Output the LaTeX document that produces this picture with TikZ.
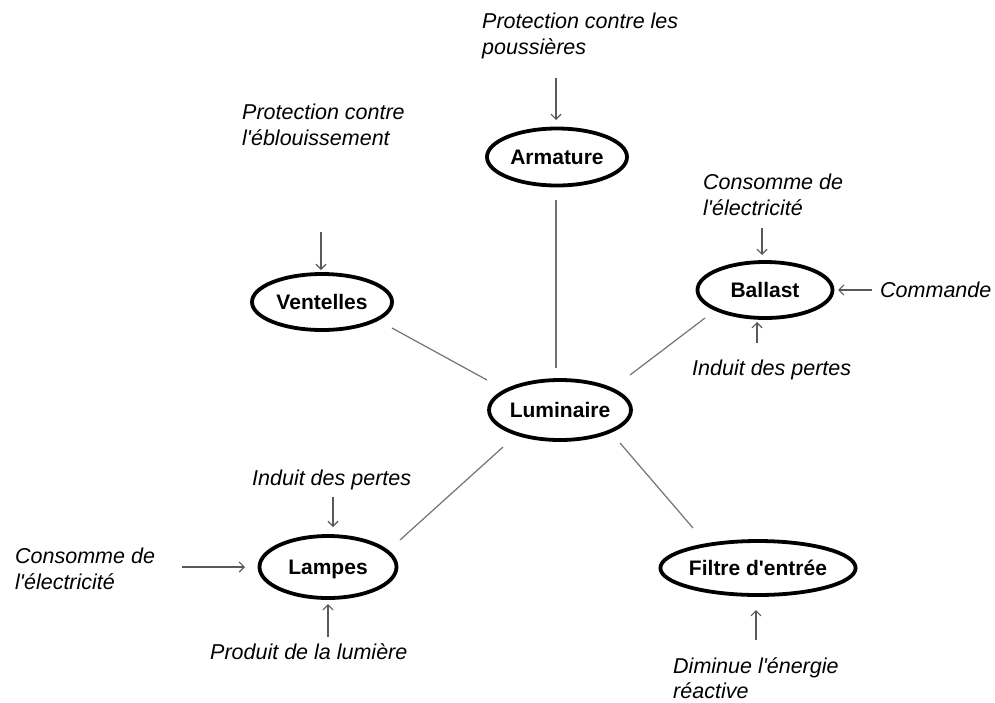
\documentclass[tikz,border=0pt]{standalone}
\usepackage{fontspec}
\setmainfont{Liberation Sans}[Ligatures=TeXOff]
\usetikzlibrary{shapes.geometric,arrows.meta,calc}
\begin{document}
\begin{tikzpicture}[x=1pt,y=-1pt,
  ell/.style={ellipse,draw=black,line width=3.8pt,inner sep=0pt,text height=15pt,text depth=0pt,font=\fontsize{21}{25}\selectfont\bfseries},
  lbl/.style={anchor=base west,inner sep=0pt,align=left,font=\fontsize{21.5}{26}\selectfont\itshape},
  link/.style={draw=black!55,line width=1.2pt},
  arr/.style={draw=black!65,line width=1.2pt,-{Straight Barb[length=5pt,width=10pt,line width=1.2pt]}}]
\fill[white] (0,0) rectangle (995,702);
\useasboundingbox (0,0) rectangle (995,702);
% nodes
\node[ell,minimum width=140pt,minimum height=57pt] (arm) at (557,157) {Armature};
\node[ell,minimum width=140pt,minimum height=56pt] (vent) at (322,302) {Ventelles};
\node[ell,minimum width=135pt,minimum height=56pt] (bal) at (765,290) {Ballast};
\node[ell,minimum width=134pt,minimum height=60pt] (lum) at (560,410) {Luminaire};
\node[ell,minimum width=137pt,minimum height=62pt] (lamp) at (328,567) {Lampes};
\node[ell,minimum width=189pt,minimum height=54pt] (fil) at (758,568) {Filtre d'entrée};
% labels (base = baseline of last line)
\node[lbl] (t1) at (482,54) {Protection contre les\\poussières};
\node[lbl] (t2) at (242,145) {Protection contre\\l'éblouissement};
\node[lbl] (t3) at (703,215) {Consomme de\\l'électricité};
\node[lbl] (t4) at (880,297) {Commande};
\node[lbl] (t5) at (692,375) {Induit des pertes};
\node[lbl] (t6) at (252,485) {Induit des pertes};
\node[lbl] (t7) at (15,589) {Consomme de\\l'électricité};
\node[lbl] (t8) at (210,659) {Produit de la lumière};
\node[lbl,font=\fontsize{21.5}{25}\selectfont\itshape] (t9) at (673,698) {Diminue l'énergie\\réactive};
% links
\draw[link] ($(arm)+(-1,43)$) -- ($(lum)+(-4,-42)$);
\draw[link] ($(vent)+(70,26)$) -- ($(lum)+(-73,-30)$);
\draw[link] ($(bal)+(-60,28)$) -- ($(lum)+(70,-35)$);
\draw[link] ($(lamp)+(72,-27)$) -- ($(lum)+(-57,37)$);
\draw[link] ($(fil)+(-65,-40)$) -- ($(lum)+(60,33)$);
% arrows
\draw[arr] ($(arm)+(-1,-79)$) -- ($(arm)+(-1,-37)$);
\draw[arr] ($(vent)+(-1,-70)$) -- ($(vent)+(-1,-32)$);
\draw[arr] ($(bal)+(-3,-62)$) -- ($(bal)+(-3,-35)$);
\draw[arr] ($(bal)+(107,0)$) -- ($(bal)+(73,0)$);
\draw[arr] ($(bal)+(-8,53)$) -- ($(bal)+(-8,32)$);
\draw[arr] ($(lamp)+(5,-70)$) -- ($(lamp)+(5,-40)$);
\draw[arr] ($(lamp)+(-146,0)$) -- ($(lamp)+(-83,0)$);
\draw[arr] ($(lamp)+(0,70)$) -- ($(lamp)+(0,37)$);
\draw[arr] ($(fil)+(-2,72)$) -- ($(fil)+(-2,42)$);
\end{tikzpicture}
\end{document}
